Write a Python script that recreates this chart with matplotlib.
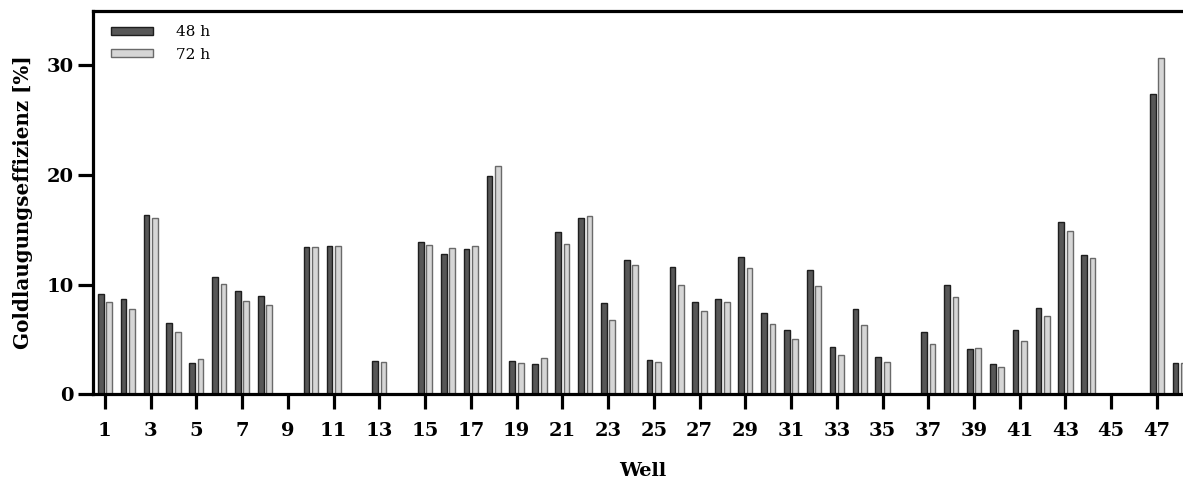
import numpy as np
import matplotlib
matplotlib.use("Agg")
import matplotlib.pyplot as plt

plt.rcParams['font.family'] = ['DejaVu Serif']

wells = list(range(1, 49))
eff_48h = [9.12, 8.67, 16.39, 6.52, 2.85, 10.67, 9.42, 8.94, 0, 13.45, 13.5, 0,
           3.03, 0, 13.88, 12.85, 13.27, 19.91, 3.03, 2.79, 14.82, 16.06, 8.30, 12.27,
           3.15, 11.61, 8.42, 8.73, 12.52, 7.42, 5.85, 11.36, 4.36, 7.82, 3.42, 0,
           5.73, 9.97, 4.12, 2.79, 5.88, 7.88, 15.7, 12.73, 0, 0, 27.42, 2.85]
eff_72h = [8.42, 7.82, 16.09, 5.70, 3.24, 10.03, 8.48, 8.15, 0, 13.45, 13.55, 0,
           2.94, 0, 13.67, 13.33, 13.55, 20.85, 2.88, 3.33, 13.76, 16.27, 6.76, 11.79,
           2.94, 9.94, 7.64, 8.39, 11.55, 6.45, 5.06, 9.88, 3.64, 6.36, 2.94, 0,
           4.58, 8.91, 4.27, 2.52, 4.88, 7.12, 14.88, 12.42, 0, 0, 30.67, 2.9]
series_labels = ["48 h", "72 h"]
xtick_values = list(range(1, 49, 2))
ytick_values = [0, 10, 20, 30]

fig = plt.figure(figsize=(11.83, 4.84), dpi=100)
ax = fig.add_axes([0.079, 0.185, 0.928, 0.793])

x = np.array(wells, dtype=float)
w = 0.25
off = 0.185
ax.bar(x - off, eff_48h, width=w, color='#575757', edgecolor='#1e1e1e', linewidth=1.0,
       label=series_labels[0])
ax.bar(x + off, eff_72h, width=w, color='#d6d6d6', edgecolor='#6a6a6a', linewidth=1.0,
       label=series_labels[1])

ax.set_xlim(0.5, 48.5)
ax.set_ylim(0, 35)
ax.set_xticks(xtick_values)
ax.set_xticklabels([str(v) for v in xtick_values])
ax.set_yticks(ytick_values)

ax.spines['right'].set_visible(False)
for s in ['left', 'top', 'bottom']:
    ax.spines[s].set_linewidth(2.3)
    ax.spines[s].set_color('black')

ax.tick_params(axis='both', length=11, width=2.3, color='black', labelsize=14)
ax.tick_params(axis='x', pad=9)
ax.tick_params(axis='y', pad=3)
for lab in ax.get_xticklabels() + ax.get_yticklabels():
    lab.set_fontweight('bold')

ax.set_xlabel("Well", fontsize=14, fontweight='bold')
ax.xaxis.set_label_coords(0.5, -0.175)
ax.set_ylabel("Goldlaugungseffizienz [%]", fontsize=14.3, fontweight='bold')
ax.yaxis.set_label_coords(-0.055, 0.5)

leg = ax.legend(loc='upper left', bbox_to_anchor=(0.0157, 0.962), frameon=False,
                fontsize=11, handlelength=2.75, handleheight=0.46, handletextpad=1.5,
                borderpad=0, borderaxespad=0, labelspacing=0.55)

fig.savefig("out.png", dpi=100)
